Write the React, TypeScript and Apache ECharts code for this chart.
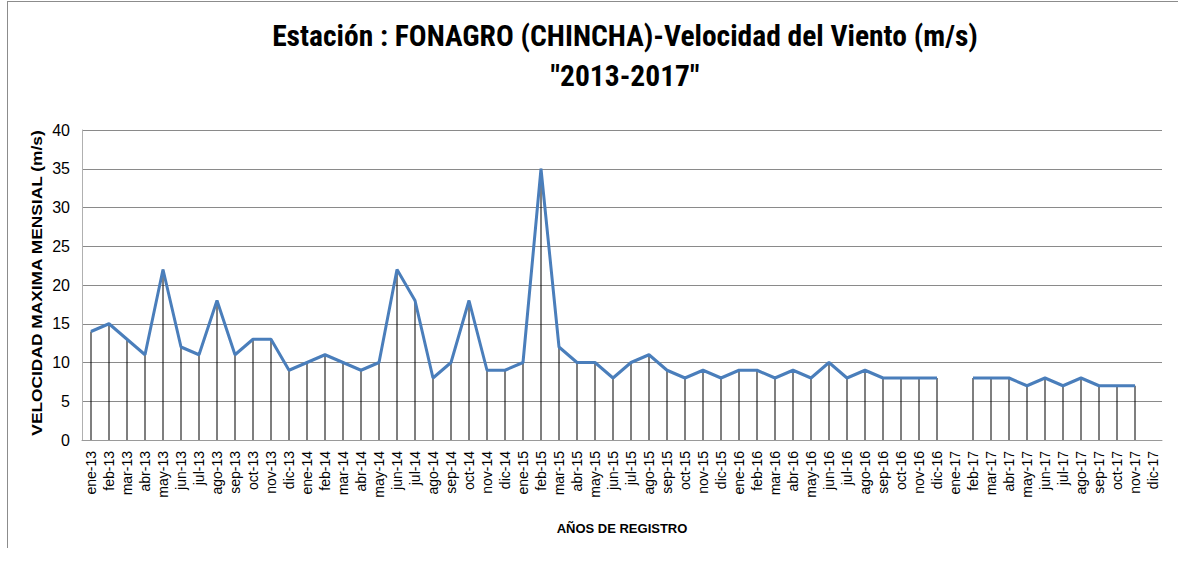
import React, { useEffect, useRef } from "react";
import * as echarts from "echarts";

const categories = [
  "ene-13","feb-13","mar-13","abr-13","may-13","jun-13","jul-13","ago-13","sep-13","oct-13","nov-13","dic-13",
  "ene-14","feb-14","mar-14","abr-14","may-14","jun-14","jul-14","ago-14","sep-14","oct-14","nov-14","dic-14",
  "ene-15","feb-15","mar-15","abr-15","may-15","jun-15","jul-15","ago-15","sep-15","oct-15","nov-15","dic-15",
  "ene-16","feb-16","mar-16","abr-16","may-16","jun-16","jul-16","ago-16","sep-16","oct-16","nov-16","dic-16",
  "ene-17","feb-17","mar-17","abr-17","may-17","jun-17","jul-17","ago-17","sep-17","oct-17","nov-17","dic-17",
];

const values2013 = [14, 15, 13, 11, 22, 12, 11, 18, 11, 13, 13, 9];
const values2014 = [10, 11, 10, 9, 10, 22, 18, 8, 10, 18, 9, 9];
const values2015 = [10, 35, 12, 10, 10, 8, 10, 11, 9, 8, 9, 8];
const values2016 = [9, 9, 8, 9, 8, 10, 8, 9, 8, 8, 8, 8];
const values2017 = [null, 8, 8, 8, 7, 8, 7, 8, 7, 7, 7, null];

const velocidad: (number | null)[] = [
  ...values2013, ...values2014, ...values2015, ...values2016, ...values2017,
];

const titleLines = [
  "Estación : FONAGRO (CHINCHA)-Velocidad del Viento (m/s)",
  "\"2013-2017\"",
];
const yAxisName = "VELOCIDAD MAXIMA MENSIAL (m/s)";
const xAxisName = "AÑOS DE REGISTRO";

export default function App() {
  const ref = useRef<HTMLDivElement>(null);
  useEffect(() => {
    if (!ref.current) return;
    const chart = echarts.init(ref.current, null, { renderer: "svg" });
    chart.setOption({
      animation: false,
      backgroundColor: "#ffffff",
      title: {
        text: titleLines.join("\n"),
        left: 620,
        textAlign: "center",
        top: 11,
        textStyle: {
          fontFamily: "'Liberation Sans Narrow', 'Roboto Condensed', 'Liberation Sans', sans-serif",
          fontWeight: "bold",
          fontSize: 29.5,
          lineHeight: 40,
          color: "#000000",
        },
      },
      graphic: [
        {
          type: "line",
          shape: { x1: 7.5, y1: 1, x2: 7.5, y2: 548 },
          style: { stroke: "#8c8c8c", lineWidth: 1 },
        },
        {
          type: "line",
          shape: { x1: 7, y1: 1.5, x2: 1178, y2: 1.5 },
          style: { stroke: "#8c8c8c", lineWidth: 1 },
        },
        {
          type: "text",
          x: 37,
          y: 283,
          rotation: Math.PI / 2,
          scaleX: 1.24,
          style: {
            text: yAxisName,
            align: "center",
            verticalAlign: "middle",
            fontFamily: "'Liberation Sans', sans-serif",
            fontWeight: "bold",
            fontSize: 14,
            fill: "#000",
          },
        },
      ],
      grid: { left: 82, right: 16, top: 130, bottom: 122 },
      xAxis: {
        type: "category",
        data: categories,
        boundaryGap: true,
        name: xAxisName,
        nameLocation: "middle",
        nameGap: 82,
        nameTextStyle: {
          fontFamily: "'Liberation Sans', sans-serif",
          fontWeight: "bold",
          fontSize: 13,
          color: "#000",
        },
        axisLine: { show: true, lineStyle: { color: "#9a9a9a", width: 1 } },
        axisTick: { show: false },
        axisLabel: {
          interval: 0,
          rotate: 90,
          margin: 11,
          fontFamily: "'Liberation Sans', sans-serif",
          fontSize: 14,
          color: "#000",
        },
      },
      yAxis: {
        type: "value",
        min: 0,
        max: 40,
        interval: 5,
        axisLine: { show: true, lineStyle: { color: "#b0b0b0", width: 1 } },
        axisTick: { show: false },
        axisLabel: {
          fontFamily: "'Liberation Sans', sans-serif",
          fontSize: 16,
          color: "#000",
          margin: 12,
        },
        splitLine: { show: true, lineStyle: { color: "#8a8a8a", width: 1 } },
      },
      series: [
        {
          type: "bar",
          data: velocidad,
          barWidth: 1,
          itemStyle: { color: "#000000" },
          silent: true,
          z: 1,
        },
        {
          type: "line",
          data: velocidad,
          connectNulls: false,
          showSymbol: false,
          symbol: "none",
          lineStyle: { color: "#4a7ebb", width: 3 },
          z: 3,
        },
      ],
    });
    return () => chart.dispose();
  }, []);
  return (
    <div
      ref={ref}
      style={{ position: "fixed", left: 0, top: 0, width: 1178, height: 562 }}
    />
  );
}
